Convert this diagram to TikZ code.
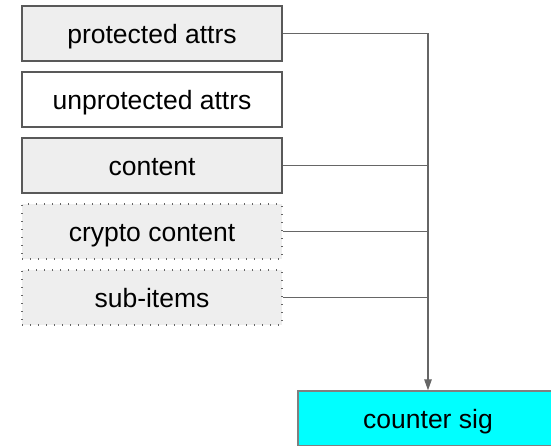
\documentclass[tikz,border=0pt]{standalone}
\usepackage{fontspec}
\setmainfont{Liberation Sans}
\usetikzlibrary{positioning,arrows.meta}
\definecolor{boxgray}{HTML}{EEEEEE}
\definecolor{edgegray}{HTML}{595959}
\definecolor{linegray}{HTML}{666666}
\definecolor{sigcyan}{HTML}{00FFFF}
\tikzset{
  field/.style={draw=edgegray, line width=1.4pt, minimum width=260pt, minimum height=55pt,
    inner sep=0pt, text height=19pt, text depth=0pt, font=\fontsize{26.5}{30}\selectfont},
  optfield/.style={field, draw=linegray, line width=1.4pt, dash pattern=on 1.4pt off 6.6pt, fill=boxgray},
  conn/.style={draw=linegray, line width=1.2pt}
}
\begin{document}
\begin{tikzpicture}[x=1pt,y=-1pt]
\useasboundingbox (0,0) rectangle (551,445);
\clip (0,0) rectangle (551,445);
\node[field,fill=boxgray] (prot) at (152,33.5) {protected attrs};
\node[field,below=9.6pt of prot] (unprot) {unprotected attrs};
\node[field,fill=boxgray,below=9.6pt of unprot] (cont) {content};
\node[optfield,below=9.6pt of cont] (crypto) {crypto content};
\node[optfield,below=9.6pt of crypto] (sub) {sub-items};
\node[field,fill=sigcyan,draw=black!50] (sig) at (428,418.5) {counter sig};
% lines into the counter signature
\draw[conn,-{Triangle[length=11pt,width=7.5pt]}] (prot.east) -| (sig.north);
\draw[conn] (cont.east) -- (cont.east -| sig.north);
\draw[conn] (crypto.east) -- (crypto.east -| sig.north);
\draw[conn] (sub.east) -- (sub.east -| sig.north);
\end{tikzpicture}
\end{document}
